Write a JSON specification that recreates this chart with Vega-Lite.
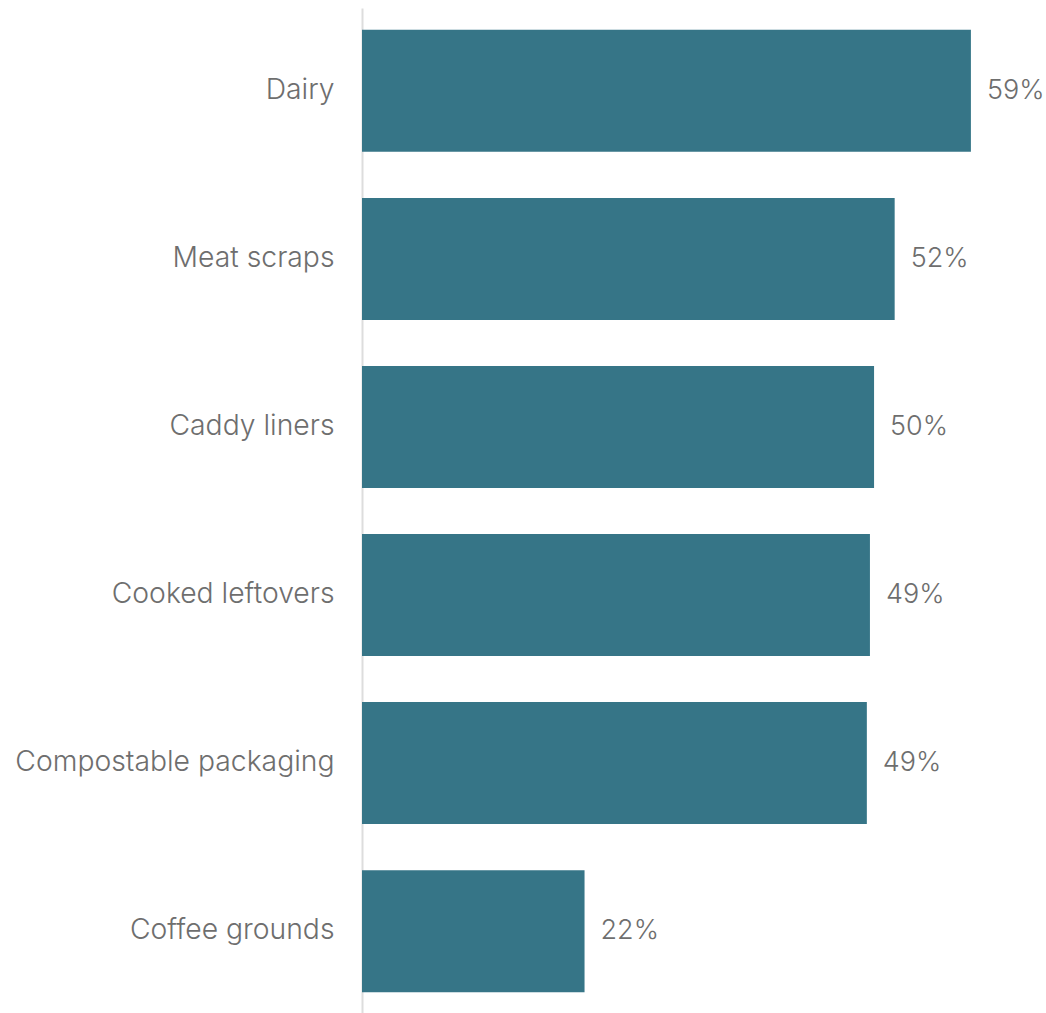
{
  "$schema": "https://vega.github.io/schema/vega-lite/v6.json",
  "width": 680,
  "height": 1006,
  "autosize": "none",
  "padding": {"left": 362, "top": 8, "right": 5, "bottom": 0},
  "background": "white",
  "data": {"values": [
    {"category": "Dairy", "value": 59.1, "label": "59%"},
    {"category": "Meat scraps", "value": 51.7, "label": "52%"},
    {"category": "Caddy liners", "value": 49.7, "label": "50%"},
    {"category": "Cooked leftovers", "value": 49.3, "label": "49%"},
    {"category": "Compostable packaging", "value": 49.0, "label": "49%"},
    {"category": "Coffee grounds", "value": 21.6, "label": "22%"}
  ]},
  "config": {
    "view": {"stroke": null},
    "font": "Inter"
  },
  "encoding": {
    "y": {
      "field": "category", "type": "nominal", "sort": null,
      "scale": {"paddingInner": 0.274, "paddingOuter": 0.13},
      "axis": {
        "title": null, "ticks": false, "domain": true, "domainColor": "#dddddd", "domainWidth": 2,
        "labelFontSize": 28.3, "labelColor": "#6e6e6e", "labelPadding": 28, "labelFont": "Inter", "labelFontWeight": 300, "labelLimit": 400
      }
    },
    "x": {
      "field": "value", "type": "quantitative",
      "scale": {"domain": [0, 66]},
      "axis": null
    }
  },
  "layer": [
    {"mark": {"type": "bar", "color": "#367587"}},
    {"mark": {"type": "text", "align": "left", "dx": 16, "fontSize": 27, "fontWeight": 300, "color": "#6e6e6e", "font": "Inter"},
     "encoding": {"text": {"field": "label"}}}
  ]
}
